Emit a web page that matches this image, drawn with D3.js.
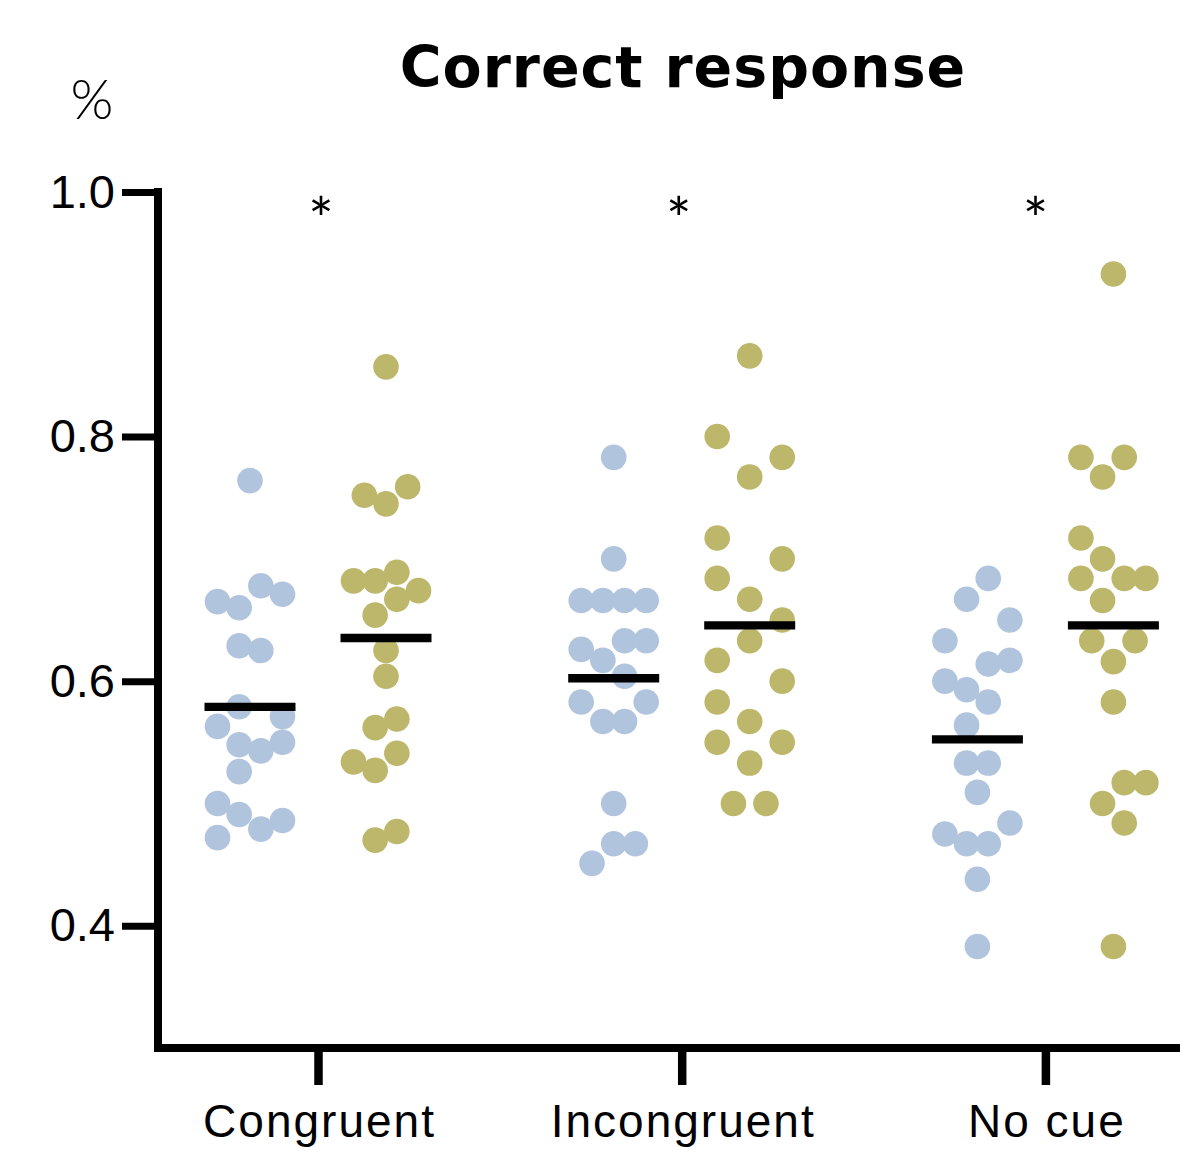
<!DOCTYPE html>
<html>
<head>
<meta charset="utf-8">
<script src="https://cdn.jsdelivr.net/npm/d3@7"></script>
<style>
  html, body { margin: 0; padding: 0; background: #ffffff; }
  svg { display: block; }
</style>
</head>
<body>
<div id="chart"></div>
<script>
// ---------------- DATA ----------------
const categories = ["Congruent", "Incongruent", "No cue"];
const seriesNames = ["Group A", "Group B"];
const yTicks = [0.4, 0.6, 0.8, 1.0];
const significance = ["*", "*", "*"];

// Group A (blue) values per category
const groupACongruent = [0.764,0.665,0.660,0.678,0.671,0.629,0.625,0.579,0.563,0.571,0.548,0.543,0.550,0.526,0.500,0.491,0.479,0.486,0.472];
const groupAIncongruent = [0.783,0.700,0.666,0.666,0.666,0.666,0.633,0.633,0.626,0.617,0.604,0.583,0.583,0.567,0.567,0.500,0.467,0.467,0.451];
const groupANoCue = [0.684,0.667,0.650,0.633,0.614,0.617,0.600,0.593,0.583,0.564,0.533,0.533,0.509,0.484,0.475,0.467,0.467,0.438,0.383];

// Group B (olive) values per category
const groupBCongruent = [0.857,0.752,0.745,0.759,0.682,0.682,0.689,0.674,0.667,0.654,0.625,0.604,0.562,0.569,0.534,0.527,0.541,0.470,0.477];
const groupBIncongruent = [0.866,0.800,0.783,0.767,0.717,0.700,0.684,0.667,0.650,0.633,0.617,0.600,0.583,0.567,0.550,0.550,0.533,0.500,0.500];
const groupBNoCue = [0.933,0.783,0.783,0.767,0.717,0.700,0.684,0.684,0.684,0.666,0.633,0.633,0.616,0.583,0.517,0.517,0.500,0.484,0.383];

// scatter lane (column) index of each point within its swarm
const groupACongruentLane = [0,-3,-1,1,3,-1,1,-1,-3,3,-1,1,3,-1,-3,-1,1,3,-3];
const groupAIncongruentLane = [0,0,-3,-1,1,3,1,3,-3,-1,1,-3,3,-1,1,0,0,2,-2];
const groupANoCueLane = [1,-1,3,-3,1,3,-3,-1,1,-1,-1,1,0,3,-3,-1,1,0,0];
const groupBCongruentLane = [0,-2,0,2,-3,-1,1,3,1,-1,0,0,-1,1,-3,-1,1,-1,1];
const groupBIncongruentLane = [0,-3,3,0,-3,3,-3,0,3,0,-3,3,-3,0,-3,3,0,-1.5,1.5];
const groupBNoCueLane = [0,-3,1,-1,-3,-1,-3,1,3,-1,-2,2,0,0,1,3,-1,1,0];

// ---------------- BUILD TABLE ----------------
const valueTable = {
  "Group A": [groupACongruent, groupAIncongruent, groupANoCue],
  "Group B": [groupBCongruent, groupBIncongruent, groupBNoCue]
};
const laneTable = {
  "Group A": [groupACongruentLane, groupAIncongruentLane, groupANoCueLane],
  "Group B": [groupBCongruentLane, groupBIncongruentLane, groupBNoCueLane]
};
const points = [];
const means = [];
seriesNames.forEach(s => {
  categories.forEach((c, ci) => {
    const vals = valueTable[s][ci];
    const lanes = laneTable[s][ci];
    vals.forEach((v, i) => points.push({series: s, category: c, value: v, lane: lanes[i]}));
    means.push({series: s, category: c, value: d3.mean(vals)});
  });
});

// ---------------- CHART ----------------
const W = 1180, H = 1155;
const colors = d3.scaleOrdinal().domain(seriesNames).range(["#b0c4de", "#bdb76b"]);

const svg = d3.select("#chart").append("svg")
  .attr("width", W).attr("height", H)
  .style("font-family", "Lato, 'Open Sans', sans-serif");

const axisX0 = 158, axisY0 = 1048;
const y = d3.scaleLinear().domain([0.3, 1.0]).range([axisY0, 192]);
const x = d3.scalePoint().domain(categories).range([318, 1045.4]);
const xSub = d3.scalePoint().domain(seriesNames).range([-68, 68]);
const lane = d3.scaleLinear().domain([-3, 3]).range([-32.5, 32.5]);

// dots
svg.append("g").selectAll("circle")
  .data(points).join("circle")
  .attr("cx", d => x(d.category) + xSub(d.series) + lane(d.lane))
  .attr("cy", d => y(d.value))
  .attr("r", 12.8)
  .attr("fill", d => colors(d.series));

// mean lines
svg.append("g").selectAll("line")
  .data(means).join("line")
  .attr("x1", d => x(d.category) + xSub(d.series) - 45.5)
  .attr("x2", d => x(d.category) + xSub(d.series) + 45.5)
  .attr("y1", d => y(d.value))
  .attr("y2", d => y(d.value))
  .attr("stroke", "#000")
  .attr("stroke-width", 8.3);

// y axis
const yAxis = svg.append("g")
  .attr("transform", `translate(${axisX0},0)`)
  .call(d3.axisLeft(y).tickValues(yTicks).tickFormat(d3.format(".1f")).tickSize(36).tickSizeOuter(0).tickPadding(7));
yAxis.select(".domain").attr("stroke", "#000").attr("stroke-width", 8).attr("stroke-linecap", "square")
  .attr("d", `M0,${y(1.0)}V${axisY0}`);
yAxis.selectAll(".tick line").attr("stroke", "#000").attr("stroke-width", 7);
yAxis.selectAll(".tick text")
  .attr("fill", "#000")
  .style("font-size", "47px")
  .style("font-weight", 300);

// x axis
const xAxis = svg.append("g")
  .attr("transform", `translate(0,${axisY0})`)
  .call(d3.axisBottom(x).tickSize(37).tickSizeOuter(0));
xAxis.select(".domain").attr("stroke", "#000").attr("stroke-width", 8).attr("stroke-linecap", "square")
  .attr("d", `M${axisX0},0H${W + 10}`);
xAxis.selectAll(".tick line").attr("stroke", "#000").attr("stroke-width", 8.5);
xAxis.selectAll(".tick text")
  .attr("fill", "#000")
  .attr("y", 89).attr("dy", 0)
  .attr("dx", 1)
  .style("font-size", "46px")
  .style("letter-spacing", "2px")
  .style("font-weight", 300);

// significance markers
svg.append("g").selectAll("text")
  .data(significance).join("text")
  .attr("x", (d, i) => x(categories[i]) + [3, -3, -10][i])
  .attr("y", 241)
  .attr("text-anchor", "middle")
  .style("font-size", "60px")
  .style("font-weight", 400)
  .text(d => d);

// y unit label
svg.append("text")
  .attr("x", 92).attr("y", 119)
  .attr("text-anchor", "middle")
  .style("font-size", "55px")
  .style("font-weight", 300)
  .text("%");

// title
svg.append("text")
  .attr("x", 683).attr("y", 87)
  .attr("text-anchor", "middle")
  .style("font-family", "'DejaVu Sans', sans-serif")
  .style("font-size", "57px")
  .style("font-weight", 700)
  .style("letter-spacing", "1px")
  .text("Correct response");
</script>
</body>
</html>
